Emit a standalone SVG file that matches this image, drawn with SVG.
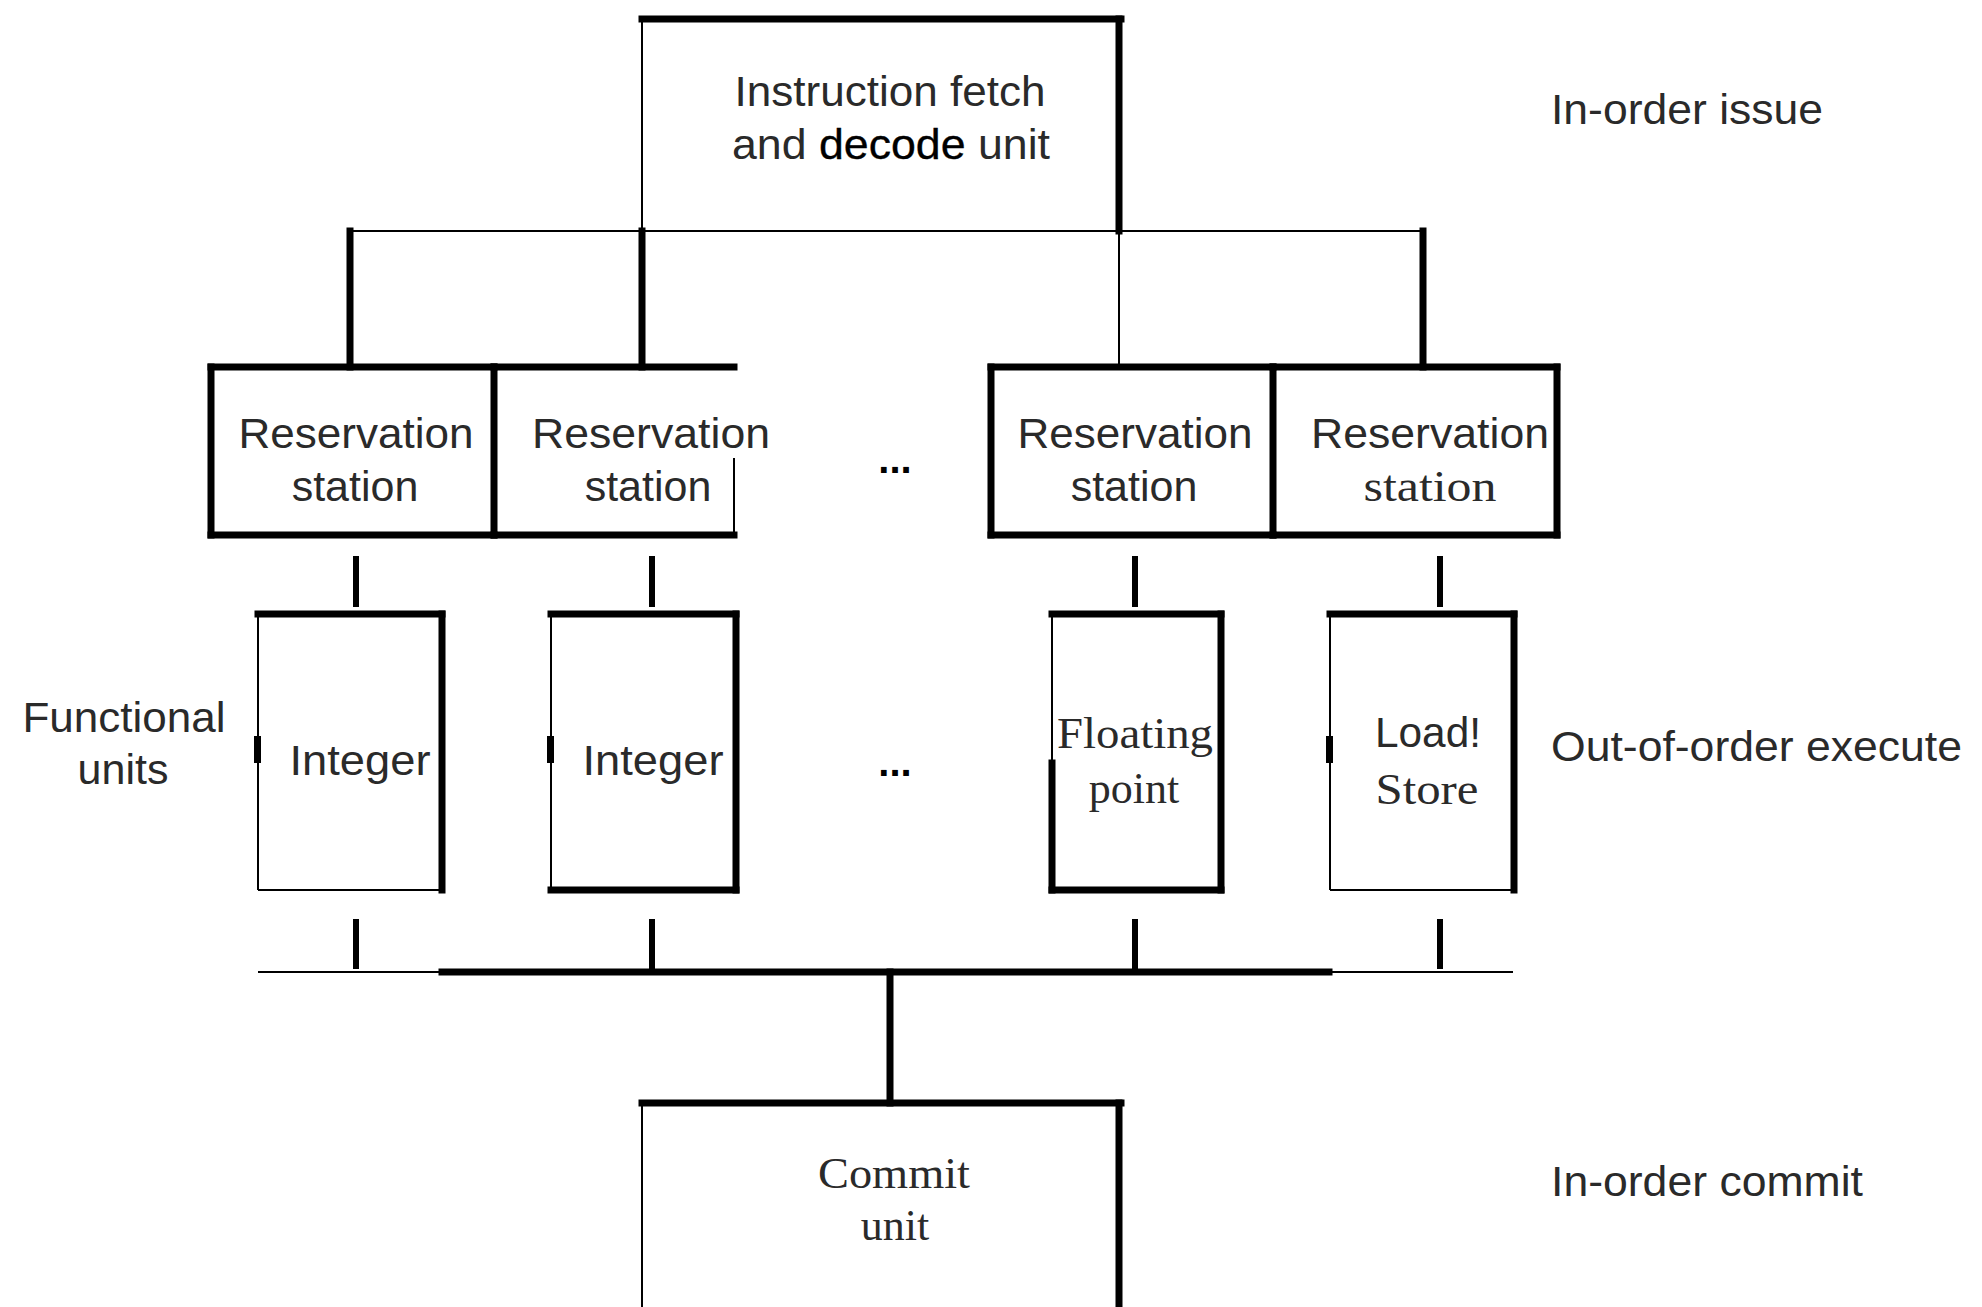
<svg xmlns="http://www.w3.org/2000/svg" width="1982" height="1307" viewBox="0 0 1982 1307">
<style>
  .thick { stroke: #000; stroke-width: 7; fill: none; stroke-linecap: square; }
  .thin { stroke: #000; stroke-width: 2; fill: none; }
  .stub { stroke: #000; stroke-width: 6; fill: none; }
  .sans { font-family: "Liberation Sans", Arial, sans-serif; font-size: 43px; fill: #2a2a2a; }
  .serif { font-family: "Liberation Serif", "Times New Roman", serif; font-size: 44px; fill: #2a2a2a; }
  .mid { text-anchor: middle; }
</style>
<rect width="1982" height="1307" fill="#fff"/>

<g id="fetch-decode">
  <line class="thick" x1="642" y1="19" x2="1121" y2="19"/>
  <line class="thin" x1="642" y1="19" x2="642" y2="231"/>
  <line class="thick" x1="1119" y1="19" x2="1119" y2="231"/>
  <text class="sans mid" x="890" y="106" textLength="311" lengthAdjust="spacingAndGlyphs">Instruction fetch</text>
  <text class="sans mid" x="891" y="159" textLength="318" lengthAdjust="spacingAndGlyphs">and <tspan fill="#000" stroke="#000" stroke-width="0.35">decode</tspan> unit</text>
</g>

<g id="connectors">
  <line class="thin" x1="350" y1="231" x2="1423" y2="231"/>
  <line class="thick" x1="350" y1="231" x2="350" y2="367"/>
  <line class="thick" x1="642" y1="231" x2="642" y2="367"/>
  <line class="thin" x1="1119" y1="231" x2="1119" y2="367"/>
  <line class="thick" x1="1423" y1="231" x2="1423" y2="367"/>
  <line class="stub" x1="356" y1="556" x2="356" y2="607"/>
  <line class="stub" x1="652" y1="556" x2="652" y2="607"/>
  <line class="stub" x1="1135" y1="556" x2="1135" y2="607"/>
  <line class="stub" x1="1440" y1="556" x2="1440" y2="607"/>
  <line class="stub" x1="356" y1="919" x2="356" y2="969"/>
  <line class="stub" x1="652" y1="919" x2="652" y2="969"/>
  <line class="stub" x1="1135" y1="919" x2="1135" y2="969"/>
  <line class="stub" x1="1440" y1="919" x2="1440" y2="969"/>
  <line class="thin" x1="258" y1="972" x2="442" y2="972"/>
  <line class="thick" x1="442" y1="972" x2="1329" y2="972"/>
  <line class="thin" x1="1329" y1="972" x2="1513" y2="972"/>
  <line class="thick" x1="890" y1="972" x2="890" y2="1103"/>
</g>

<g id="rs1">
  <line class="thick" x1="211" y1="367" x2="494" y2="367"/>
  <line class="thick" x1="211" y1="535" x2="494" y2="535"/>
  <line class="thick" x1="211" y1="367" x2="211" y2="535"/>
  <line class="thick" x1="494" y1="367" x2="494" y2="535"/>
  <text class="sans mid" x="356" y="448" textLength="235" lengthAdjust="spacingAndGlyphs">Reservation</text>
  <text class="sans mid" x="355" y="501">station</text>
</g>
<g id="rs2">
  <line class="thick" x1="494" y1="367" x2="734" y2="367"/>
  <line class="thick" x1="494" y1="535" x2="734" y2="535"/>
  <line class="thin" x1="734" y1="458" x2="734" y2="535"/>
  <text class="sans mid" x="651" y="448" textLength="238" lengthAdjust="spacingAndGlyphs">Reservation</text>
  <text class="sans mid" x="648" y="501">station</text>
</g>
<g id="rs3">
  <line class="thick" x1="991" y1="367" x2="1273" y2="367"/>
  <line class="thick" x1="991" y1="535" x2="1273" y2="535"/>
  <line class="thick" x1="991" y1="367" x2="991" y2="535"/>
  <line class="thick" x1="1273" y1="367" x2="1273" y2="535"/>
  <text class="sans mid" x="1135" y="448" textLength="235" lengthAdjust="spacingAndGlyphs">Reservation</text>
  <text class="sans mid" x="1134" y="501">station</text>
</g>
<g id="rs4">
  <line class="thick" x1="1273" y1="367" x2="1557" y2="367"/>
  <line class="thick" x1="1273" y1="535" x2="1557" y2="535"/>
  <line class="thick" x1="1557" y1="367" x2="1557" y2="535"/>
  <text class="sans mid" x="1430" y="448" textLength="238" lengthAdjust="spacingAndGlyphs">Reservation</text>
  <text class="serif mid" x="1430" y="501" textLength="133" lengthAdjust="spacingAndGlyphs">station</text>
</g>

<g id="ellipsis-rs">
  <text class="sans mid" x="895" y="473" style="font-size:40px;font-weight:bold;fill:#000">...</text>
</g>
<g id="ellipsis-fu">
  <text class="sans mid" x="895" y="776" style="font-size:40px;font-weight:bold;fill:#000">...</text>
</g>

<g id="fu-integer-1">
  <line class="thick" x1="258" y1="614" x2="442" y2="614"/>
  <line class="thick" x1="442" y1="614" x2="442" y2="890"/>
  <line class="thin" x1="258" y1="614" x2="258" y2="890"/>
  <line class="thin" x1="258" y1="890" x2="442" y2="890"/>
  <rect x="254" y="736" width="7" height="27" fill="#000"/>
  <text class="sans mid" x="360" y="775" textLength="141" lengthAdjust="spacingAndGlyphs">Integer</text>
</g>
<g id="fu-integer-2">
  <line class="thick" x1="551" y1="614" x2="736" y2="614"/>
  <line class="thick" x1="736" y1="614" x2="736" y2="890"/>
  <line class="thick" x1="551" y1="890" x2="736" y2="890"/>
  <line class="thin" x1="551" y1="614" x2="551" y2="890"/>
  <rect x="547" y="736" width="7" height="27" fill="#000"/>
  <text class="sans mid" x="653" y="775" textLength="141" lengthAdjust="spacingAndGlyphs">Integer</text>
</g>
<g id="fu-floating">
  <line class="thick" x1="1052" y1="614" x2="1221" y2="614"/>
  <line class="thick" x1="1221" y1="614" x2="1221" y2="890"/>
  <line class="thick" x1="1052" y1="890" x2="1221" y2="890"/>
  <line class="thin" x1="1052" y1="614" x2="1052" y2="763"/>
  <line class="thick" x1="1052" y1="763" x2="1052" y2="890"/>
  <text class="serif mid" x="1135" y="748" textLength="156" lengthAdjust="spacingAndGlyphs">Floating</text>
  <text class="serif mid" x="1134" y="803">point</text>
</g>
<g id="fu-loadstore">
  <line class="thick" x1="1330" y1="614" x2="1514" y2="614"/>
  <line class="thick" x1="1514" y1="614" x2="1514" y2="890"/>
  <line class="thin" x1="1330" y1="614" x2="1330" y2="890"/>
  <line class="thin" x1="1330" y1="890" x2="1514" y2="890"/>
  <rect x="1326" y="736" width="7" height="27" fill="#000"/>
  <text class="sans mid" x="1428" y="747" textLength="106" lengthAdjust="spacingAndGlyphs">Load!</text>
  <text class="serif mid" x="1427" y="804" textLength="103" lengthAdjust="spacingAndGlyphs">Store</text>
</g>

<g id="commit">
  <line class="thick" x1="642" y1="1103" x2="1121" y2="1103"/>
  <line class="thin" x1="642" y1="1103" x2="642" y2="1307"/>
  <line class="thick" x1="1119" y1="1103" x2="1119" y2="1307"/>
  <text class="serif mid" x="894" y="1188" textLength="152" lengthAdjust="spacingAndGlyphs">Commit</text>
  <text class="serif mid" x="895" y="1240">unit</text>
</g>

<g id="labels">
  <text class="sans" x="1551" y="124" textLength="272" lengthAdjust="spacingAndGlyphs">In-order issue</text>
  <text class="sans mid" x="124" y="732" textLength="203" lengthAdjust="spacingAndGlyphs">Functional</text>
  <text class="sans mid" x="123" y="784">units</text>
  <text class="sans" x="1551" y="761" textLength="411" lengthAdjust="spacingAndGlyphs">Out-of-order execute</text>
  <text class="sans" x="1551" y="1196" textLength="312" lengthAdjust="spacingAndGlyphs">In-order commit</text>
</g>
</svg>
